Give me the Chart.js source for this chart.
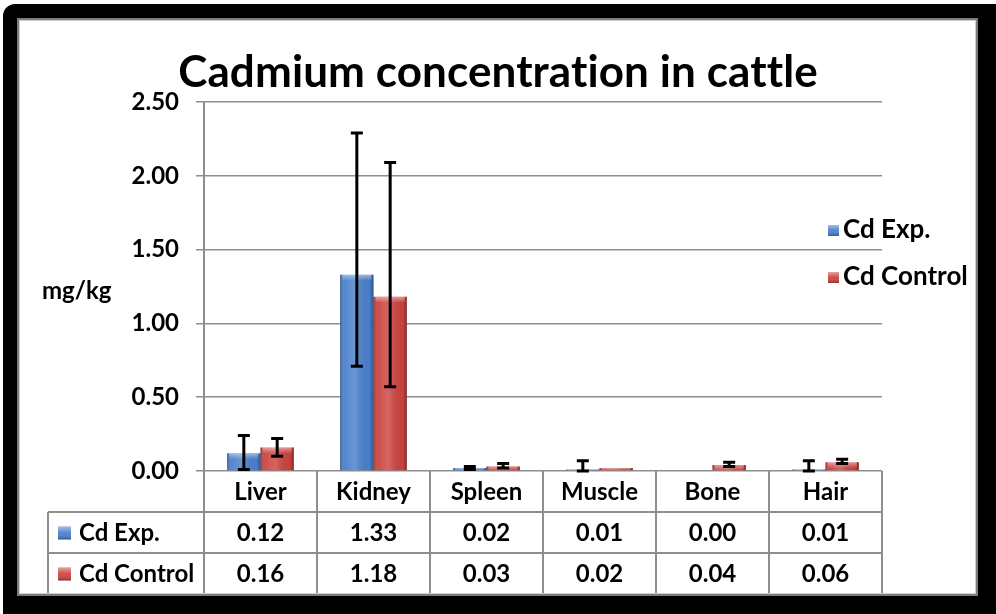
<!DOCTYPE html>
<html>
<head>
<meta charset="utf-8">
<title>Cadmium concentration in cattle</title>
<script src="https://cdn.jsdelivr.net/npm/chart.js@4.4.1/dist/chart.umd.min.js"></script>
<style>
  html, body { margin: 0; padding: 0; background: #fff; }
  #wrap { position: relative; width: 996px; height: 614px; overflow: hidden; }
  #wrap canvas { position: absolute; left: 0; top: 0; }
  /* black picture frame with a thin grey bevel on the inside */
  .frame {
    position: absolute; left: 3px; top: 4px; right: 0; bottom: 0;
    border: solid #000; border-width: 14px 18px 18px 14px;
    border-top-left-radius: 12px; pointer-events: none;
  }
  .bevel {
    position: absolute; left: 17px; top: 18px; width: 961px; height: 578px;
    box-sizing: border-box; border: 2px solid #7c7c7c;
    box-shadow: inset 0 0 0 1px #cfcfcf; pointer-events: none;
  }
</style>
</head>
<body>
<div id="wrap">
  <canvas id="chart-cd"></canvas>
  <div class="frame"></div>
  <div class="bevel"></div>
</div>
<script>
// ── Data ───────────────────────────────────────────────────────
const categories  = ['Liver', 'Kidney', 'Spleen', 'Muscle', 'Bone', 'Hair'];
const seriesNames = ['Cd Exp.', 'Cd Control'];
const cdExp       = [0.12, 1.33, 0.02, 0.01, 0.00, 0.01];
const cdControl   = [0.16, 1.18, 0.03, 0.02, 0.04, 0.06];

// error bar ends (lower / upper), mg/kg
const cdExpLow      = [0.01, 0.71, 0.01, 0.00, 0.00, 0.00];
const cdExpHigh     = [0.24, 2.29, 0.03, 0.07, 0.00, 0.07];
const cdControlLow  = [0.10, 0.57, 0.02, 0.02, 0.03, 0.05];
const cdControlHigh = [0.22, 2.09, 0.05, 0.02, 0.06, 0.08];

const yTicks = [0, 0.5, 1.0, 1.5, 2.0, 2.5];

const TITLE      = 'Cadmium concentration in cattle';
const COLOR_EXP  = '#4a80cc';
const COLOR_CTRL = '#cc4440';
const GRID       = '#8e8e8e';
const FONT       = "Lato, 'Open Sans', sans-serif";

Chart.defaults.font.family = FONT;
Chart.defaults.color = '#000';

// soft bevel over each bar: darker edges, lighter centre and top
const barShading = {
  id: 'barShading',
  afterDatasetsDraw(chart) {
    const { ctx } = chart;
    ctx.save();
    chart.data.datasets.forEach((ds, di) => {
      chart.getDatasetMeta(di).data.forEach((bar) => {
        const { x, y, base, width } = bar.getProps(['x', 'y', 'base', 'width'], true);
        const h = base - y;
        if (h < 0.5) return;
        const l = x - width / 2;
        const g = ctx.createLinearGradient(l, 0, l + width, 0);
        g.addColorStop(0,    'rgba(0,0,0,0.35)');
        g.addColorStop(0.12, 'rgba(255,255,255,0.05)');
        g.addColorStop(0.45, 'rgba(255,255,255,0.18)');
        g.addColorStop(0.88, 'rgba(0,0,0,0.02)');
        g.addColorStop(1,    'rgba(0,0,0,0.35)');
        ctx.fillStyle = g;
        ctx.fillRect(l, y, width, h);
        const capH = Math.min(6, h);
        const t = ctx.createLinearGradient(0, y, 0, y + capH);
        t.addColorStop(0, 'rgba(255,255,255,0.45)');
        t.addColorStop(1, 'rgba(255,255,255,0)');
        ctx.fillStyle = t;
        ctx.fillRect(l + 2, y, width - 4, capH);
      });
    });
    ctx.restore();
  },
};

// error bars from the low / high arrays
const errorBars = {
  id: 'errorBars',
  afterDatasetsDraw(chart) {
    const { ctx, scales: { y } } = chart;
    const lows  = [cdExpLow, cdControlLow];
    const highs = [cdExpHigh, cdControlHigh];
    ctx.save();
    ctx.strokeStyle = '#000';
    ctx.lineWidth = 3;
    chart.data.datasets.forEach((ds, di) => {
      chart.getDatasetMeta(di).data.forEach((bar, i) => {
        const lo = lows[di][i];
        const hi = highs[di][i];
        if (hi - lo <= 0) return;
        const yl = y.getPixelForValue(lo);
        const yh = y.getPixelForValue(hi);
        const cap = 6;
        ctx.beginPath();
        ctx.moveTo(bar.x, yl);       ctx.lineTo(bar.x, yh);
        ctx.moveTo(bar.x - cap, yh); ctx.lineTo(bar.x + cap, yh);
        ctx.moveTo(bar.x - cap, yl); ctx.lineTo(bar.x + cap, yl);
        ctx.stroke();
      });
    });
    ctx.restore();
  },
};

function drawKey(ctx, x, y, size, color) {
  ctx.fillStyle = color;
  ctx.fillRect(x, y, size, size);
  const g = ctx.createLinearGradient(0, y, 0, y + size);
  g.addColorStop(0,   'rgba(255,255,255,0.5)');
  g.addColorStop(0.5, 'rgba(255,255,255,0.05)');
  g.addColorStop(1,   'rgba(0,0,0,0.3)');
  ctx.fillStyle = g;
  ctx.fillRect(x, y, size, size);
}

// title, data table under the plot, legend on the right, unit label on the left
const tableAndLegend = {
  id: 'tableAndLegend',
  afterDraw(chart) {
    const { ctx, chartArea, scales: { x } } = chart;
    const rowH   = 41;
    const top    = chartArea.bottom;
    const bottom = top + rowH * 3 + 2;
    const keyLeft = 48;
    const colW = (chartArea.right - chartArea.left) / categories.length;
    const colors = [COLOR_EXP, COLOR_CTRL];
    const rows   = [cdExp, cdControl];

    ctx.save();

    // title, centred on the whole frame
    ctx.fillStyle = '#000';
    ctx.font = `bold 44px ${FONT}`;
    ctx.letterSpacing = '0.1px';
    ctx.textAlign = 'center';
    ctx.textBaseline = 'alphabetic';
    ctx.fillText(TITLE, 498, 87);
    ctx.letterSpacing = '0px';

    ctx.strokeStyle = GRID;
    ctx.lineWidth = 2;
    ctx.beginPath();
    // axis line runs down through the table
    ctx.moveTo(chartArea.left, top);  ctx.lineTo(chartArea.left, bottom);
    for (let i = 1; i <= categories.length; i++) {
      const cx = chartArea.left + colW * i;
      ctx.moveTo(cx, top); ctx.lineTo(cx, bottom);
    }
    ctx.moveTo(keyLeft, top + rowH);     ctx.lineTo(chartArea.right, top + rowH);
    ctx.moveTo(keyLeft, top + rowH * 2); ctx.lineTo(chartArea.right, top + rowH * 2);
    ctx.moveTo(keyLeft, top + rowH);     ctx.lineTo(keyLeft, bottom);
    ctx.stroke();

    ctx.fillStyle = '#000';
    ctx.font = `bold 24px ${FONT}`;
    ctx.textAlign = 'center';
    ctx.textBaseline = 'middle';
    categories.forEach((c, i) => {
      ctx.fillText(c, x.getPixelForValue(i), top + rowH / 2 + 1);
    });
    rows.forEach((vals, r) => {
      const cy = top + rowH * (r + 1) + rowH / 2 + 1;
      vals.forEach((v, i) => {
        ctx.fillStyle = '#000';
        ctx.fillText(v.toFixed(2), x.getPixelForValue(i), cy);
      });
      drawKey(ctx, 58, cy - 7, 13, colors[r]);
      ctx.fillStyle = '#000';
      ctx.textAlign = 'left';
      ctx.fillText(seriesNames[r], 79, cy);
      ctx.textAlign = 'center';
    });

    // unit label
    ctx.textAlign = 'left';
    ctx.fillText('mg/kg', 42, 291);

    // legend
    ctx.font = `bold 26px ${FONT}`;
    [230, 277].forEach((ly, r) => {
      drawKey(ctx, 828, ly - 5, 11, colors[r]);
      ctx.fillStyle = '#000';
      ctx.fillText(seriesNames[r], 843, ly);
    });
    ctx.restore();
  },
};

new Chart(document.getElementById('chart-cd'), {
  type: 'bar',
  data: {
    labels: categories,
    datasets: [
      { label: seriesNames[0], data: cdExp,     backgroundColor: COLOR_EXP,  borderWidth: 0 },
      { label: seriesNames[1], data: cdControl, backgroundColor: COLOR_CTRL, borderWidth: 0 },
    ],
  },
  options: {
    responsive:          true,
    maintainAspectRatio: false,
    animation:           false,
    layout: { padding: { left: 0, right: 114, top: 102, bottom: 143 } },
    datasets: { bar: { categoryPercentage: 0.59, barPercentage: 1.0 } },
    plugins: {
      legend:  { display: false },
      tooltip: { enabled: false },
      title:   { display: false },
    },
    scales: {
      x: {
        grid:   { display: false },
        border: { display: false },
        ticks:  { display: false },
        afterFit: (s) => { s.height = 0; },
      },
      y: {
        min: 0,
        max: 2.5,
        afterBuildTicks: (s) => { s.ticks = yTicks.map((v) => ({ value: v })); },
        afterFit: (s) => { s.width = 204; },
        grid:   { color: GRID, lineWidth: 1.5, tickLength: 8 },
        border: { color: GRID, width: 2 },
        ticks: {
          padding: 17,
          font:    { size: 24, weight: 'bold' },
          color:   '#000',
          callback: (v) => Number(v).toFixed(2),
        },
      },
    },
  },
  plugins: [barShading, errorBars, tableAndLegend],
});
</script>
</body>
</html>
